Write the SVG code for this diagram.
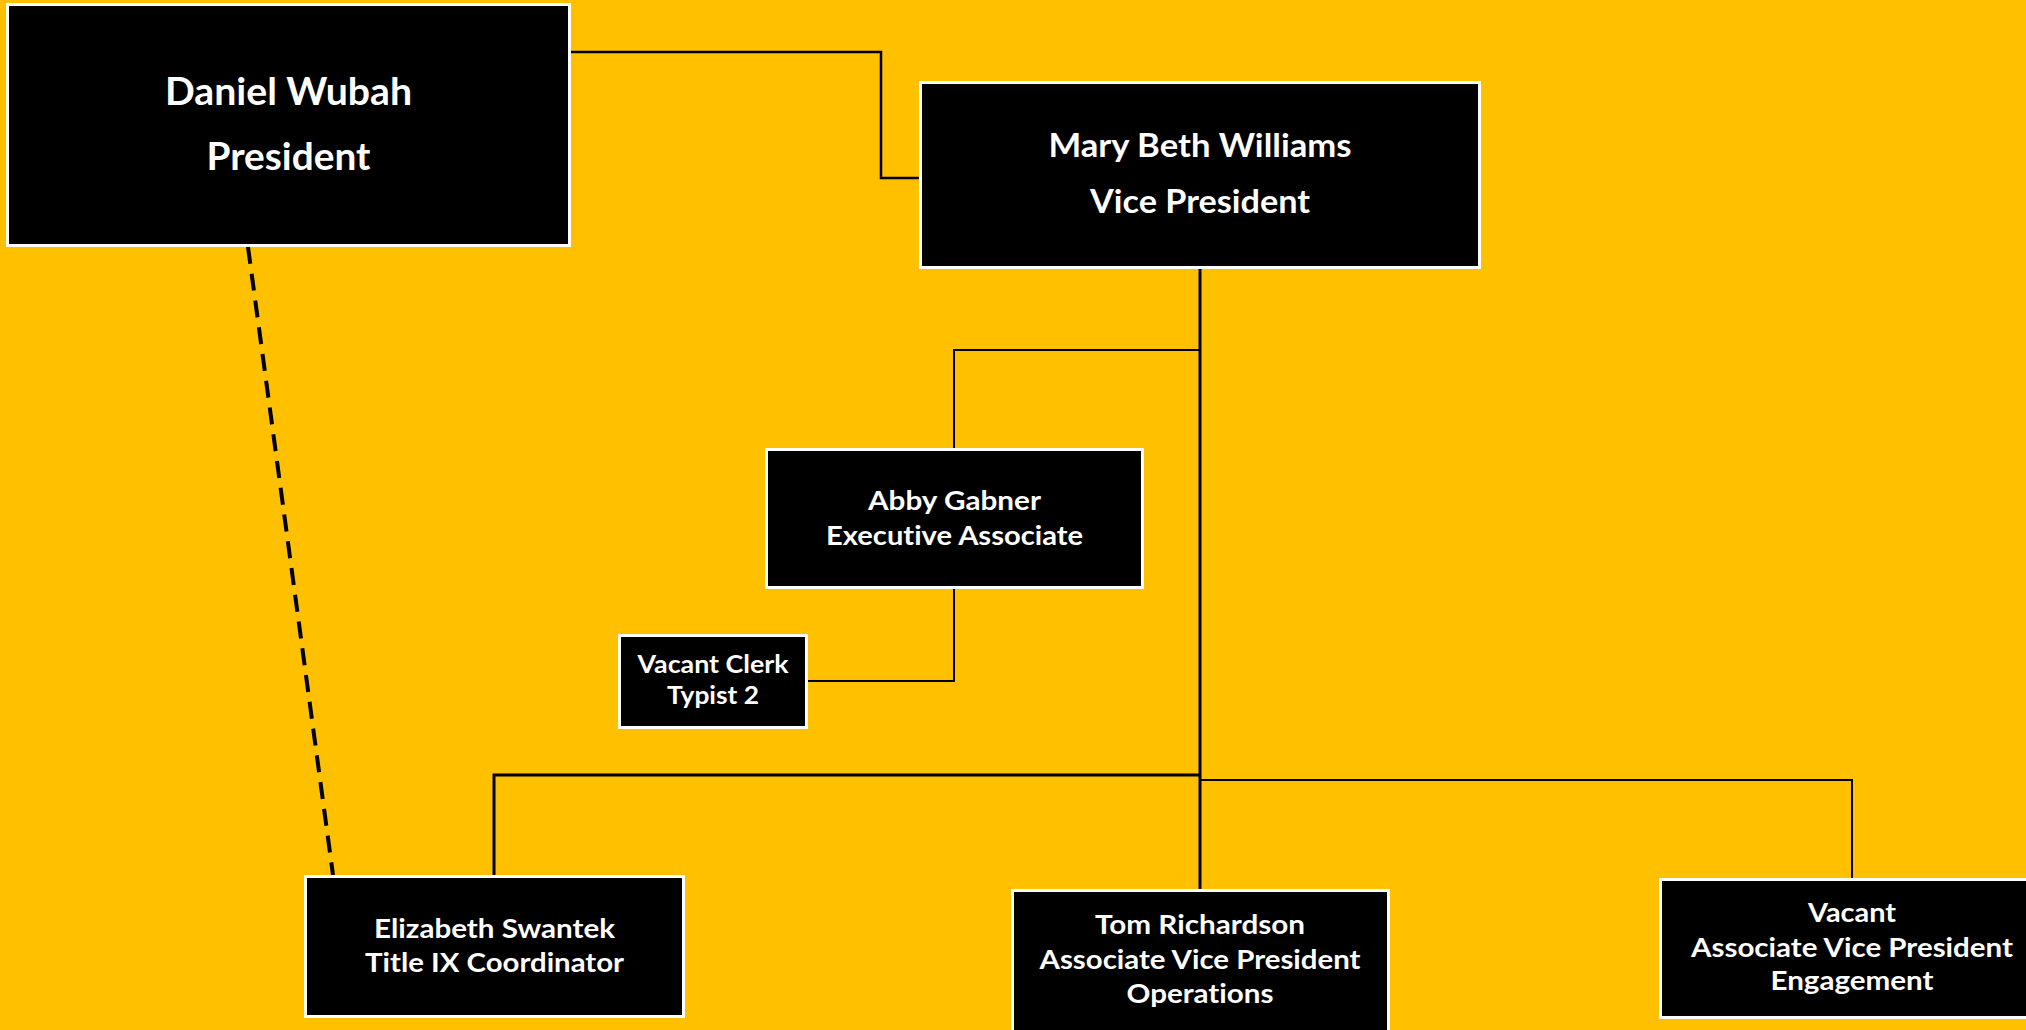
<svg xmlns="http://www.w3.org/2000/svg" width="2026" height="1030" viewBox="0 0 2026 1030">
<style>
.box{fill:#000;stroke:#fff;stroke-width:3}
.t{fill:#fff;font-family:Lato,"Open Sans","Liberation Sans",sans-serif;font-weight:bold;text-anchor:middle;font-variant-ligatures:none}
.c{fill:none;stroke:#000;stroke-linejoin:miter}
</style>
<rect x="0" y="0" width="2026" height="1030" fill="#FFC000"/>
<g id="connectors">
<path class="c" d="M571 52 H881 V178 H919" stroke-width="2.5"/>
<path class="c" d="M1200 269 V889" stroke-width="3"/>
<path class="c" d="M1200 350 H954 V448" stroke-width="2"/>
<path class="c" d="M954 589 V681 H808" stroke-width="2"/>
<path class="c" d="M1200 775 H494 V875" stroke-width="3"/>
<path class="c" d="M1200 780 H1852 V878" stroke-width="2"/>
<path class="c" d="M248 247 L333 875" stroke-width="4" stroke-dasharray="17 10"/>
</g>
<g id="president">
<rect class="box" x="7.5" y="4.5" width="562" height="241"/>
<text class="t" x="288.5" y="105" font-size="38" textLength="247" lengthAdjust="spacingAndGlyphs">Daniel Wubah</text>
<text class="t" x="288.5" y="170" font-size="38" textLength="164" lengthAdjust="spacingAndGlyphs">President</text>
</g>
<g id="vice-president">
<rect class="box" x="920.5" y="82.5" width="559" height="185"/>
<text class="t" x="1200" y="157" font-size="31.5" textLength="303" lengthAdjust="spacingAndGlyphs">Mary Beth Williams</text>
<text class="t" x="1200" y="213" font-size="31.5" textLength="220" lengthAdjust="spacingAndGlyphs">Vice President</text>
</g>
<g id="abby-gabner">
<rect class="box" x="766.5" y="449.5" width="376" height="138"/>
<text class="t" x="954.5" y="510" font-size="27.5" textLength="173" lengthAdjust="spacingAndGlyphs">Abby Gabner</text>
<text class="t" x="954.5" y="545" font-size="27.5" textLength="257" lengthAdjust="spacingAndGlyphs">Executive Associate</text>
</g>
<g id="vacant-clerk">
<rect class="box" x="619.5" y="635.5" width="187" height="92"/>
<text class="t" x="713" y="673" font-size="25" textLength="151" lengthAdjust="spacingAndGlyphs">Vacant Clerk</text>
<text class="t" x="713" y="704" font-size="25" textLength="92" lengthAdjust="spacingAndGlyphs">Typist 2</text>
</g>
<g id="elizabeth-swantek">
<rect class="box" x="305.5" y="876.5" width="378" height="140"/>
<text class="t" x="494.5" y="938" font-size="27.5" textLength="241" lengthAdjust="spacingAndGlyphs">Elizabeth Swantek</text>
<text class="t" x="494.5" y="972" font-size="27.5" textLength="259" lengthAdjust="spacingAndGlyphs">Title IX Coordinator</text>
</g>
<g id="tom-richardson">
<rect class="box" x="1012.5" y="890.5" width="376" height="150"/>
<text class="t" x="1200" y="934" font-size="27.5" textLength="210" lengthAdjust="spacingAndGlyphs">Tom Richardson</text>
<text class="t" x="1200" y="969" font-size="27.5" textLength="321" lengthAdjust="spacingAndGlyphs">Associate Vice President</text>
<text class="t" x="1200" y="1003" font-size="27.5" textLength="147" lengthAdjust="spacingAndGlyphs">Operations</text>
</g>
<g id="vacant-avp">
<rect class="box" x="1660.5" y="879.5" width="384" height="138"/>
<text class="t" x="1852" y="922" font-size="26.5" textLength="88" lengthAdjust="spacingAndGlyphs">Vacant</text>
<text class="t" x="1852" y="957" font-size="26.5" textLength="322" lengthAdjust="spacingAndGlyphs">Associate Vice President</text>
<text class="t" x="1852" y="990" font-size="26.5" textLength="163" lengthAdjust="spacingAndGlyphs">Engagement</text>
</g>
</svg>
